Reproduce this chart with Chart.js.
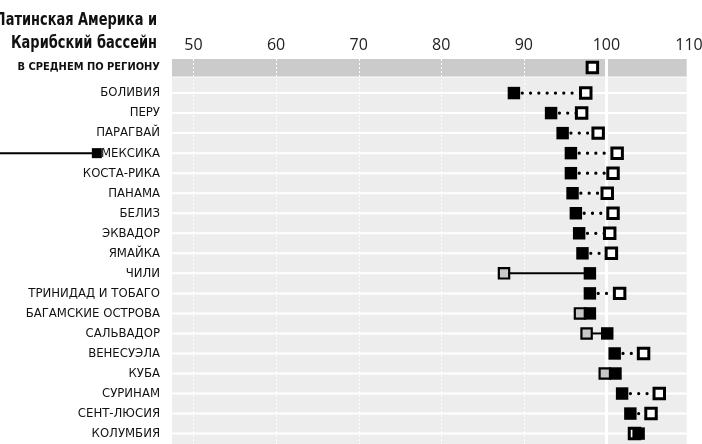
<!DOCTYPE html>
<html>
<head>
<meta charset="utf-8">
<script src="https://cdn.jsdelivr.net/npm/chart.js@4/dist/chart.umd.min.js"></script>
<style>
  html, body { margin: 0; padding: 0; background: #fff; }
</style>
</head>
<body>
<canvas id="chart" width="702" height="444"></canvas>
<script>
// data
const countries = [
    "БОЛИВИЯ", "ПЕРУ", "ПАРАГВАЙ", "МЕКСИКА", "КОСТА-РИКА", "ПАНАМА",
    "БЕЛИЗ", "ЭКВАДОР", "ЯМАЙКА", "ЧИЛИ", "ТРИНИДАД И ТОБАГО",
    "БАГАМСКИЕ ОСТРОВА", "САЛЬВАДОР", "ВЕНЕСУЭЛА", "КУБА", "СУРИНАМ",
    "СЕНТ-ЛЮСИЯ", "КОЛУМБИЯ",
];
const valuesBlack = [
    88.8, 93.3, 94.7, 95.7, 95.7, 95.9, 96.3, 96.7, 97.1, 98.0, 98.0,
    98.0, 100.1, 101.0, 101.1, 101.9, 102.9, 103.9,
];
const valuesOther = [
    97.5, 97.0, 99.0, 101.3, 100.8, 100.1, 100.8, 100.4, 100.6, 87.6, 101.6,
    96.8, 97.6, 104.5, 99.8, 106.4, 105.4, 103.4,
];
// true = other value shown as grey box joined by a solid line
const otherLower = [
    false, false, false, false, false, false, false, false, false, true, false,
    true, true, false, true, false, false, false,
];
const regionLabel = "В СРЕДНЕМ ПО РЕГИОНУ";
const regionOther = 98.3;
const xTicks = [50, 60, 70, 80, 90, 100, 110];
const mexicoLead = [26.0, 38.3];
const titleLines = ["Латинская Америка и", "Карибский бассейн"];

const AVG_ROW = -1.275;
const MEXICO_ROW = 3;
const BAND_END = 109.72;
const LABEL_FONT = "'Liberation Sans Narrow', 'DejaVu Sans Condensed', 'Open Sans', sans-serif";

const background = {
    id: "background",
    beforeDatasetsDraw(chart) {
        const { ctx, chartArea, scales } = chart;
        const x = scales.x, y = scales.y;
        const left = chartArea.left;
        const right = x.getPixelForValue(BAND_END);
        const darkTop = y.getPixelForValue(-1.7);
        const darkBottom = y.getPixelForValue(-0.825);
        const bottom = chart.height;
        ctx.save();
        ctx.fillStyle = "#cbcbcb";
        ctx.fillRect(left, darkTop, right - left, darkBottom - darkTop);
        ctx.fillStyle = "#ededed";
        ctx.fillRect(left, darkBottom + 1, right - left, bottom - darkBottom - 1);

        // white lines through every country row
        ctx.strokeStyle = "#fff";
        ctx.lineWidth = 2;
        countries.forEach((c, i) => {
            const py = y.getPixelForValue(i);
            ctx.beginPath();
            ctx.moveTo(left, py);
            ctx.lineTo(right, py);
            ctx.stroke();
        });

        // vertical grid: dotted, with a solid line at 100
        xTicks.forEach((v) => {
            if (v >= BAND_END) return;
            const px = Math.round(x.getPixelForValue(v)) + 0.5;
            ctx.beginPath();
            if (v === 100) {
                ctx.setLineDash([]);
                ctx.lineWidth = 3;
            } else {
                ctx.setLineDash([2, 2]);
                ctx.lineWidth = 1;
            }
            ctx.moveTo(px, darkTop);
            ctx.lineTo(px, bottom);
            ctx.stroke();
        });
        ctx.restore();
    },
    afterDraw(chart) {
        const { ctx, scales } = chart;
        ctx.save();
        // end marker of the Mexico leader line (sits outside the chart area)
        const mx = scales.x.getPixelForValue(mexicoLead[1]);
        const my = scales.y.getPixelForValue(MEXICO_ROW);
        ctx.fillStyle = "#000";
        ctx.fillRect(mx - 5, my - 5, 10, 10);

        // two-line title, squeezed to a condensed width
        ctx.fillStyle = "#111";
        ctx.textAlign = "right";
        ctx.textBaseline = "middle";
        ctx.font = "bold 18px " + LABEL_FONT;
        const squeeze = 146 / ctx.measureText(titleLines[1]).width;
        ctx.translate(157, 0);
        ctx.scale(squeeze, 1);
        ctx.fillText(titleLines[0], 0, 20);
        ctx.fillText(titleLines[1], 0, 43);
        ctx.restore();
    },
};

const connectors = countries.map((c, i) => ({
    type: "line",
    data: [
        { x: valuesBlack[i], y: i },
        { x: valuesOther[i], y: i },
    ],
    borderColor: "#000",
    borderWidth: otherLower[i] ? 2 : 3.3,
    borderDash: otherLower[i] ? [] : [0.01, 8.3],
    borderCapStyle: otherLower[i] ? "butt" : "round",
    pointRadius: 0,
    clip: false,
    order: 3,
}));

const otherPoints = valuesOther.map((v, i) => ({ x: v, y: i }));
otherPoints.unshift({ x: regionOther, y: AVG_ROW });
const otherFlags = [false].concat(otherLower);

const ctx = document.getElementById("chart").getContext("2d");
const chart = new Chart(ctx, {
    type: "scatter",
    data: {
        datasets: [
            {
                label: "black",
                data: valuesBlack.map((v, i) => ({ x: v, y: i })),
                pointStyle: "rect",
                pointRadius: 8.8,
                backgroundColor: "#000",
                borderWidth: 0,
                clip: false,
                order: 0,
            },
            {
                label: "other",
                data: otherPoints,
                pointStyle: "rect",
                pointRadius: otherFlags.map((f) => (f ? 7.3 : 7.4)),
                backgroundColor: otherFlags.map((f) => (f ? "#c8c8c8" : "#fff")),
                borderColor: "#000",
                borderWidth: otherFlags.map((f) => (f ? 2.2 : 3)),
                clip: false,
                order: 1,
            },
            {
                type: "line",
                label: "lead",
                data: mexicoLead.map((v) => ({ x: v, y: MEXICO_ROW })),
                borderColor: "#000",
                borderWidth: 2,
                pointRadius: 0,
                clip: false,
                order: 2,
            },
            ...connectors,
        ],
    },
    options: {
        responsive: false,
        animation: false,
        devicePixelRatio: 1,
        layout: { padding: { left: 0, right: 13, top: 0, bottom: 0 } },
        plugins: {
            legend: { display: false },
            tooltip: { enabled: false },
        },
        scales: {
            x: {
                type: "linear",
                position: "top",
                min: 47.4,
                max: 110,
                afterBuildTicks: (s) => {
                    s.ticks = xTicks.map((v) => ({ value: v }));
                },
                afterFit: (s) => {
                    s.height = 59;
                    s.paddingLeft = 0;
                    s.paddingRight = 0;
                },
                grid: { display: false, drawTicks: false },
                border: { display: false },
                ticks: {
                    autoSkip: false,
                    maxRotation: 0,
                    padding: 4,
                    color: "#222",
                    font: { family: "'Open Sans', sans-serif", size: 16 },
                },
            },
            y: {
                type: "linear",
                reverse: true,
                min: -1.7,
                max: 17.0,
                afterBuildTicks: (s) => {
                    s.ticks = [{ value: AVG_ROW }].concat(countries.map((c, i) => ({ value: i })));
                },
                afterFit: (s) => {
                    s.width = 172;
                    s.paddingTop = 0;
                    s.paddingBottom = 0;
                },
                grid: { display: false, drawTicks: false },
                border: { display: false },
                ticks: {
                    autoSkip: false,
                    padding: 12,
                    color: "#111",
                    callback: (v) => (v === AVG_ROW ? regionLabel : countries[v]),
                    font: (c) =>
                        c.tick && c.tick.value === AVG_ROW
                            ? { family: LABEL_FONT, size: 11, weight: "bold" }
                            : { family: LABEL_FONT, size: 13 },
                },
            },
        },
    },
    plugins: [background],
});
</script>
</body>
</html>
